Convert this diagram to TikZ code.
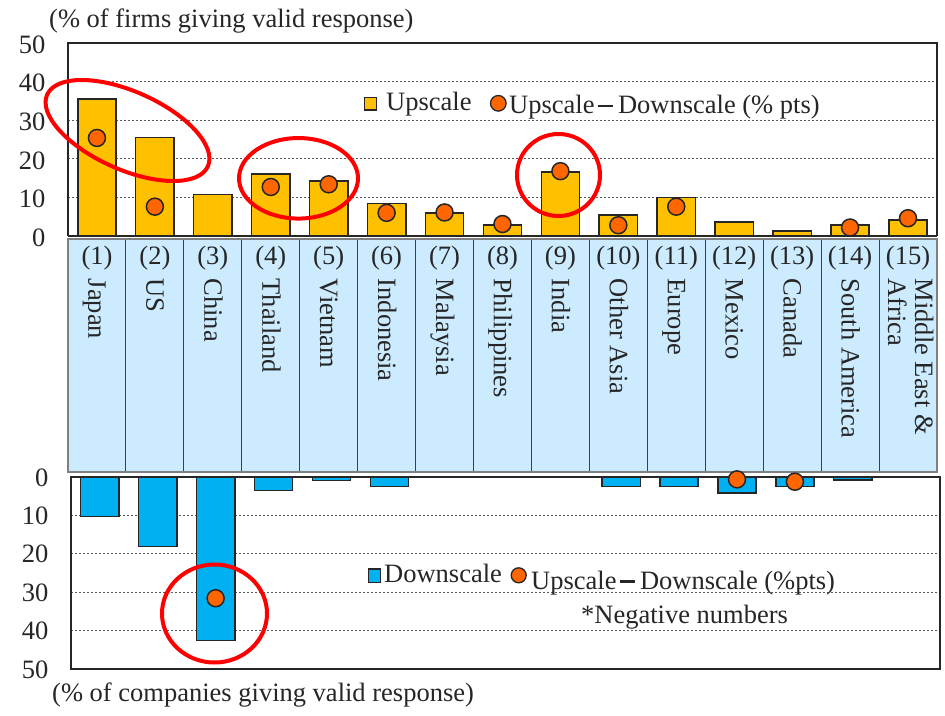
\documentclass[tikz,border=0pt]{standalone}
\usepackage{fontspec}
\setmainfont{Liberation Serif}
\usetikzlibrary{shapes.geometric}
\definecolor{upy}{HTML}{FFC000}
\definecolor{dnb}{HTML}{00B0F0}
\definecolor{dotc}{HTML}{FF6600}
\definecolor{bandc}{HTML}{CCEBFF}
\definecolor{txt}{HTML}{262626}
\definecolor{frm}{HTML}{262626}
\definecolor{gridc}{HTML}{595959}
\begin{document}
\begin{tikzpicture}[x=1pt,y=-1pt,
  font=\fontsize{26.5}{31}\selectfont,
  lab/.style={inner sep=0pt, text=txt},
  gridln/.style={draw=gridc, line width=1pt, dash pattern=on 2pt off 2pt},
  framel/.style={draw=frm, line width=1.6pt},
  upbar/.style={fill=upy, draw=frm, line width=1.5pt},
  dnbar/.style={fill=dnb, draw=frm, line width=1.5pt},
  dotm/.style={fill=dotc, draw=frm, line width=1.5pt},
  hl/.style={draw=red, line width=4pt, inner sep=0pt}]
\useasboundingbox (0,0) rectangle (945,715);
% ---------- top chart ----------
\foreach \v in {10,20,30,40} \draw[gridln] (68,236-\v*3.86) -- (937,236-\v*3.86);
\foreach \i/\u in {1/35.5,2/25.5,3/10.7,4/16.1,5/14.2,6/8.4,7/5.9,8/2.85,9/16.6,10/5.4,11/10.0,12/3.6,13/1.3,14/2.85,15/4.1}{
  \pgfmathsetmacro\cx{68+(\i-0.5)*57.93}
  \draw[upbar] (\cx-19.15,236) rectangle (\cx+19.15,236-\u*3.86);
}
\draw[framel] (68,236) -- (68,43) -- (937,43) -- (937,236);
\draw[framel] (68,236) -- (937,236);
\foreach \i/\d in {1/25.4,2/7.6,4/12.7,5/13.4,6/6.0,7/6.1,8/3.1,9/16.8,10/2.8,11/7.6,14/2.2,15/4.6}{
  \pgfmathsetmacro\cx{68+(\i-0.5)*57.93}
  \draw[dotm] (\cx,236-\d*3.86) circle (8.5);
}
\foreach \v in {0,10,20,30,40,50}
  \node[lab, anchor=base east] (ty\v) at (45.5,246.3-\v*3.86) {\v};
\node[lab, anchor=base west] (ttitle) at (49,27) {(\% of firms giving valid response)};
% top legend
\draw[upbar, line width=1.2pt] (364.3,97.7) rectangle (376.5,110);
\node[lab, anchor=base west] (lup) at (386,110.5) {Upscale};
\draw[dotm, line width=1.3pt] (498.3,103.3) circle (7.8);
\node[lab, anchor=base west] (ldiff) at (509,113) {Upscale\hspace{3pt}\rule[5.6pt]{15pt}{2.6pt}\hspace{5.5pt}Downscale (\% pts)};
% ---------- label band ----------
\draw[fill=bandc, draw=gray, line width=2.5pt] (68,239) rectangle (937,472);
\foreach \i in {1,...,14} \draw[draw=black!75, line width=1pt] (68+\i*57.93,240) -- (68+\i*57.93,471);
\foreach \i/\nm in {1/Japan,2/US,3/China,4/Thailand,5/Vietnam,6/Indonesia,7/Malaysia,8/Philippines,9/India,10/Other Asia,11/Europe,12/Mexico,13/Canada,14/South America}{
  \pgfmathsetmacro\cx{68+(\i-0.5)*57.93}
  \node[lab, anchor=base] (num\i) at (\cx,264) {(\i)};
  \node[lab, rotate=-90, anchor=base west] (nm\i) at (\cx-8.5,278.5) {\nm};
}
\node[lab, anchor=base] (num15) at (908,264) {(15)};
\node[lab, rotate=-90, anchor=base west] (nm15a) at (915,278.5) {Middle East \&};
\node[lab, rotate=-90, anchor=base west] (nm15b) at (888,278.5) {Africa};
% ---------- bottom chart ----------
\foreach \v in {10,20,30,40} \draw[gridln] (71,476.7+\v*3.846) -- (940,476.7+\v*3.846);
\foreach \i/\d in {1/10.4,2/18.2,3/42.6,4/3.6,5/1.0,6/2.6,10/2.6,11/2.6,12/4.3,13/2.6,14/0.9}{
  \pgfmathsetmacro\cx{68+(\i-0.5)*57.93+2.8}
  \draw[dnbar] (\cx-19.15,476.7) rectangle (\cx+19.15,476.7+\d*3.846);
}
\draw[framel] (71,476.7) rectangle (940,669);
\foreach \i/\d in {3/31.6,12/0.7,13/1.3}{
  \pgfmathsetmacro\cx{68+(\i-0.5)*57.93+2.8}
  \draw[dotm] (\cx,476.7+\d*3.846) circle (8.5);
}
\foreach \v in {0,10,20,30,40,50}
  \node[lab, anchor=base east] (by\v) at (48.5,486+\v*3.846) {\v};
\node[lab, anchor=base west] (btitle) at (52,701.5) {(\% of companies giving valid response)};
% bottom legend
\draw[dnbar, line width=1.2pt] (368.3,569) rectangle (380.7,582.3);
\node[lab, anchor=base west] (ldn) at (384,582) {Downscale};
\draw[dotm, line width=1.3pt] (518.7,575.3) circle (7.5);
\node[lab, anchor=base west] (ldiff2) at (531,589) {Upscale\hspace{3pt}\rule[6pt]{15pt}{2.6pt}\hspace{5.5pt}Downscale (\%pts)};
\node[lab, anchor=base west] (lneg) at (581,623.5) {*Negative numbers};
% ---------- highlight ellipses ----------
\node[hl, ellipse, minimum width=176pt, minimum height=78pt, rotate=-24] (e1) at (127.5,130.5) {};
\node[hl, ellipse, minimum width=119pt, minimum height=80.5pt] (e2) at (298.5,178.3) {};
\node[hl, ellipse, minimum width=83pt, minimum height=82pt] (e3) at (558.5,175) {};
\node[hl, ellipse, minimum width=105pt, minimum height=98pt] (e4) at (214.5,613.5) {};
\end{tikzpicture}
\end{document}
